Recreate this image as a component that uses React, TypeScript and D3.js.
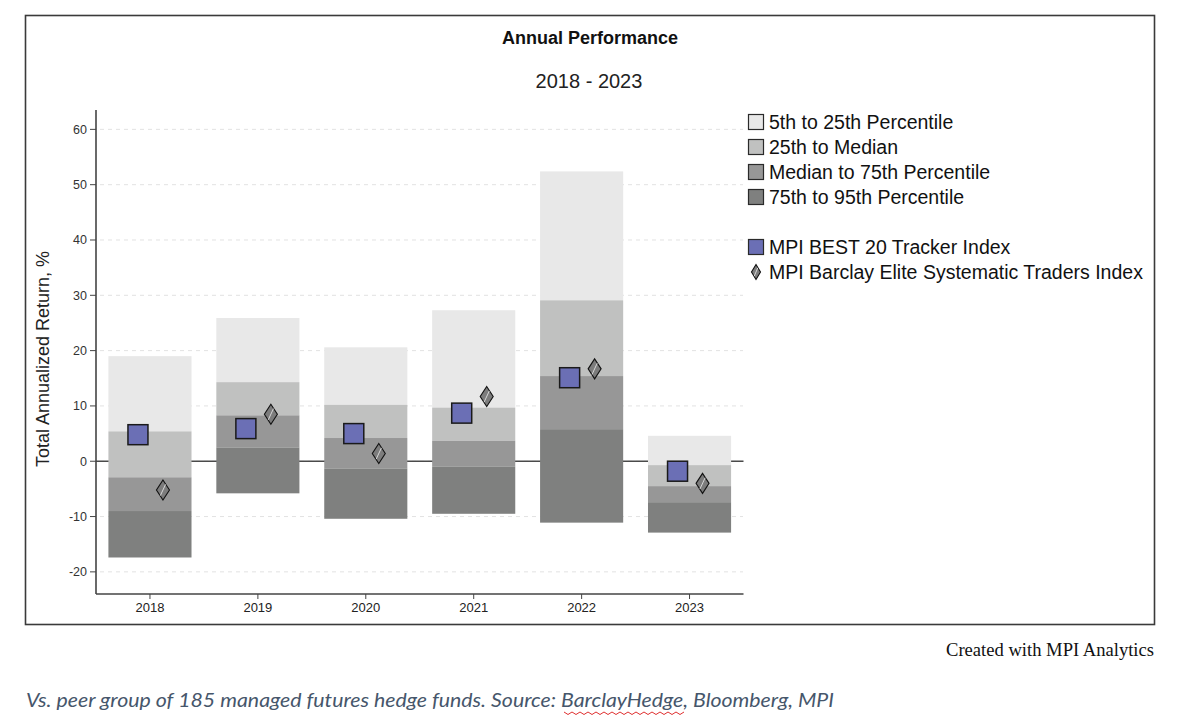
import React from "react";
import * as d3 from "d3";

const years = ["2018", "2019", "2020", "2021", "2022", "2023"];
// percentile boundaries per year: 5th (top), 25th, median, 75th, 95th (bottom)
const p5 = [19.0, 25.9, 20.6, 27.3, 52.4, 4.6];
const p25 = [5.4, 14.3, 10.2, 9.7, 29.1, -0.7];
const pMed = [-2.9, 8.3, 4.2, 3.7, 15.4, -4.5];
const p75 = [-9.0, 2.5, -1.3, -1.0, 5.8, -7.4];
const p95 = [-17.4, -5.8, -10.4, -9.5, -11.1, -12.9];
const best20 = [4.8, 5.9, 5.0, 8.7, 15.1, -1.8];
const eliteSys = [-5.2, 8.5, 1.4, 11.7, 16.7, -4.0];
const yTicks = [-20, -10, 0, 10, 20, 30, 40, 50, 60];

const bandLabels = [
  "5th to 25th Percentile",
  "25th to Median",
  "Median to 75th Percentile",
  "75th to 95th Percentile",
];
const bandColors = ["#e8e8e8", "#c0c1c0", "#979797", "#7f807f"];
const seriesLabels = ["MPI BEST 20 Tracker Index", "MPI Barclay Elite Systematic Traders Index"];
const squareColor = "#6b6fb5";

export default function App() {
  const x = d3.scaleBand<string>().domain(years).range([96, 743.5]).padding(0);
  const y = d3.scaleLinear().domain([-24, 63.5]).range([594, 110]);
  const bw = x.bandwidth() * 0.77;
  const font = "'Liberation Sans', Arial, sans-serif";

  const bounds = years.map((_, i) => [p5[i], p25[i], pMed[i], p75[i], p95[i]]);

  const diamond = (cx: number, cy: number, w: number, h: number, key: string) => (
    <g key={key} transform={`translate(${cx},${cy})`}>
      <path d={`M0,${-h / 2}L${w / 2},0L0,${h / 2}L${-w / 2},0Z`} fill="#7c7c7c" stroke="#111" strokeWidth={1.1} />
      <path d={`M${w * 0.2},${-h * 0.28}L${-w * 0.2},${h * 0.28}`} stroke="#d8d8d8" strokeWidth={1} />
    </g>
  );

  return (
    <div style={{ position: "absolute", left: 0, top: 0 }}>
      <svg width={1200} height={716} style={{ display: "block", background: "#fff" }}>
        <rect x={25.5} y={15.5} width={1129} height={609} fill="#fff" stroke="#3a3a3a" strokeWidth={1.6} />
        <text x={590} y={44} textAnchor="middle" fontFamily={font} fontWeight="bold" fontSize={18} fill="#111">
          Annual Performance
        </text>
        <text x={589} y={88} textAnchor="middle" fontFamily={font} fontSize={20} fill="#222">
          2018 - 2023
        </text>

        {/* gridlines */}
        {yTicks.map((t) => (
          <line key={"g" + t} x1={100} x2={743} y1={y(t)} y2={y(t)} stroke="#e2e2e2" strokeDasharray="4,4" strokeWidth={1} />
        ))}

        {/* zero line */}
        <line x1={96} x2={743.5} y1={y(0)} y2={y(0)} stroke="#4a4a4a" strokeWidth={1.6} />

        {/* percentile bars */}
        {years.map((yr, i) => (
          <g key={"b" + yr}>
            {bandColors.map((c, k) => {
              const top = y(bounds[i][k]);
              const bot = y(bounds[i][k + 1]);
              return (
                <rect key={k} x={(x(yr) as number) + (x.bandwidth() - bw) / 2} y={top} width={bw} height={bot - top} fill={c} />
              );
            })}
          </g>
        ))}

        {/* BEST 20 squares */}
        {years.map((yr, i) => {
          const cx = (x(yr) as number) + x.bandwidth() / 2 - 12;
          return (
            <rect key={"s" + yr} x={cx - 10} y={y(best20[i]) - 10} width={20} height={20} fill={squareColor} stroke="#1a1a1a" strokeWidth={1.5} />
          );
        })}

        {/* Elite diamonds */}
        {years.map((yr, i) => diamond((x(yr) as number) + x.bandwidth() / 2 + 13, y(eliteSys[i]), 13, 20, "d" + yr))}

        {/* axes */}
        <line x1={96} x2={96} y1={110} y2={594} stroke="#444" strokeWidth={1.6} />
        <line x1={96} x2={743.5} y1={594} y2={594} stroke="#444" strokeWidth={1.6} />
        {yTicks.map((t) => (
          <g key={"yt" + t}>
            <line x1={90} x2={96} y1={y(t)} y2={y(t)} stroke="#444" strokeWidth={1} />
            <text x={87} y={y(t)} dy="0.35em" textAnchor="end" fontFamily={font} fontSize={12.5} fill="#333">
              {t}
            </text>
          </g>
        ))}
        {years.map((yr) => {
          const cx = (x(yr) as number) + x.bandwidth() / 2;
          return (
            <g key={"xt" + yr}>
              <line x1={cx} x2={cx} y1={594} y2={599} stroke="#444" strokeWidth={1} />
              <text x={cx} y={612} textAnchor="middle" fontFamily={font} fontSize={13} fill="#222">
                {yr}
              </text>
            </g>
          );
        })}
        <text
          transform="translate(49,359) rotate(-90)"
          textAnchor="middle"
          fontFamily={font}
          fontSize={18}
          fill="#222"
        >
          Total Annualized Return, %
        </text>

        {/* legend */}
        {bandLabels.map((lab, k) => {
          const cy = 122 + k * 25;
          return (
            <g key={"l" + k}>
              <rect x={748.5} y={cy - 7.5} width={15} height={15} fill={bandColors[k]} stroke="#2a2a2a" strokeWidth={1.2} />
              <text x={769} y={cy} dy="0.36em" fontFamily={font} fontSize={19.5} fill="#111">
                {lab}
              </text>
            </g>
          );
        })}
        <rect x={748.5} y={247 - 7.5} width={15} height={15} fill={squareColor} stroke="#2a2a2a" strokeWidth={1.2} />
        <text x={769} y={247} dy="0.36em" fontFamily={font} fontSize={19.5} fill="#111">
          {seriesLabels[0]}
        </text>
        {diamond(756, 272, 9, 15, "ld")}
        <text x={769} y={272} dy="0.36em" fontFamily={font} fontSize={19.5} fill="#111">
          {seriesLabels[1]}
        </text>

        {/* credits */}
        <text x={1154} y={656} textAnchor="end" fontFamily="'Liberation Serif', 'Times New Roman', serif" fontSize={18} fill="#111" textLength={208} lengthAdjust="spacingAndGlyphs">
          Created with MPI Analytics
        </text>
        <text x={26} y={707} fontFamily="Lato, 'Open Sans', sans-serif" fontStyle="italic" fontSize={20} fill="#46566b" textLength={808} lengthAdjust="spacingAndGlyphs">
          Vs. peer group of 185 managed futures hedge funds. Source: BarclayHedge, Bloomberg, MPI
        </text>
        <path
          d={d3.range(0, 31).map((k) => `${k === 0 ? "M" : "L"}${564 + k * 4},${k % 2 === 0 ? 712 : 714.5}`).join("")}
          fill="none"
          stroke="#e03030"
          strokeWidth={1}
        />
      </svg>
    </div>
  );
}
